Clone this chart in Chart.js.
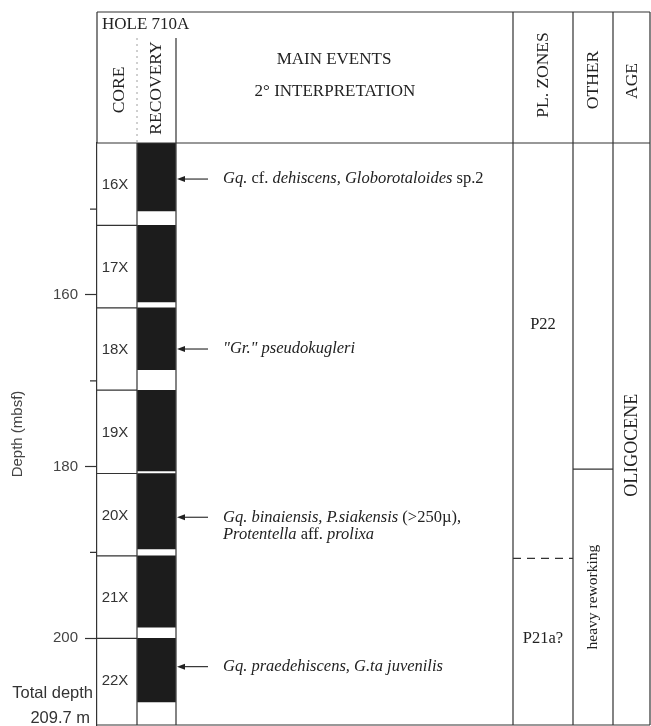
<!DOCTYPE html>
<html>
<head>
<meta charset="utf-8">
<script src="https://cdn.jsdelivr.net/npm/chart.js@4/dist/chart.umd.min.js"></script>
<style>
  html, body { margin: 0; padding: 0; background: #fff; }
  #wrap { width: 651px; height: 726px; }
</style>
</head>
<body>
<div id="wrap"><canvas id="chart"></canvas></div>
<script>
// Cores of Hole 710A (depth in mbsf)
const coreNames = ["16X", "17X", "18X", "19X", "20X", "21X", "22X"];
const coreTops = [142.3, 151.9, 161.5, 171.1, 180.8, 190.4, 200.0];
const coreBottoms = [151.9, 161.5, 171.1, 180.8, 190.4, 200.0, 209.7];
const recoveryBottoms = [150.2, 160.8, 168.7, 180.5, 189.6, 198.7, 207.4];
const depthTicks = [150, 160, 170, 180, 190, 200];
const totalDepth = 209.7;

// Main events (text between _ _ is italic, \n = new line)
const eventDepths = [146.5, 166.3, 185.9, 203.3];
const eventLabels = [
  "_Gq._ cf. _dehiscens, Globorotaloides_ sp.2",
  "_\"Gr.\" pseudokugleri_",
  "_Gq. binaiensis, P.siakensis_ (>250µ),\n_Protentella_ aff. _prolixa_",
  "_Gq. praedehiscens, G.ta juvenilis_"
];

// Planktonic zones, other, age
const zoneNames = ["P22", "P21a?"];
const zoneLabelDepths = [163.5, 200.0];
const zoneBoundary = 190.7;
const otherBoundary = 180.3;
const otherLabel = "heavy reworking";
const ageLabel = "OLIGOCENE";
const ageLabelDepth = 177.5;

// column layout (x units = px inside the frame)
const COL = { core: [0, 40], rec: [40, 79], events: [79, 416], zones: [416, 476], other: [476, 516], age: [516, 553] };
const serif = '"Liberation Serif", "Times New Roman", serif';
const sans = '"Liberation Sans", Arial, sans-serif';
const ink = "#333";

const mid = (c) => (c[0] + c[1]) / 2;

// line segments for core boundaries, broken with null points
const boundaryPoints = [];
coreTops.slice(1).forEach((d) => {
  boundaryPoints.push({ x: COL.core[0], y: d }, { x: COL.core[1], y: d }, { x: COL.core[1], y: null });
});

function drawRich(ctx, str, x, y, size) {
  const parts = str.split("_");
  let cx = x;
  parts.forEach((p, i) => {
    ctx.font = (i % 2 ? "italic " : "") + size + "px " + serif;
    ctx.fillText(p, cx, y);
    cx += ctx.measureText(p).width;
  });
}

function vtext(ctx, s, cx, cy, font) {
  ctx.save();
  ctx.translate(cx, cy);
  ctx.rotate(-Math.PI / 2);
  ctx.font = font;
  ctx.textAlign = "center";
  ctx.textBaseline = "middle";
  ctx.fillText(s, 0, 0);
  ctx.restore();
}

const columnPlugin = {
  id: "columns",
  afterDatasetsDraw(chart) {
    const { ctx, chartArea: a, scales: { x, y } } = chart;
    const top = a.top - 131;
    const px = (v) => x.getPixelForValue(v);
    ctx.save();
    ctx.strokeStyle = ink;
    ctx.lineWidth = 1.2;
    ctx.beginPath();
    ctx.moveTo(a.left, top); ctx.lineTo(a.right, top);
    ctx.moveTo(a.left, a.top); ctx.lineTo(a.right, a.top);
    ctx.moveTo(a.left, a.bottom); ctx.lineTo(a.right, a.bottom);
    ctx.moveTo(a.left, top); ctx.lineTo(a.left, a.top);
    [COL.zones[0], COL.other[0], COL.age[0], COL.age[1]].forEach((v) => {
      ctx.moveTo(px(v), top); ctx.lineTo(px(v), a.bottom);
    });
    ctx.moveTo(px(COL.rec[1]), top + 26); ctx.lineTo(px(COL.rec[1]), a.bottom);
    ctx.moveTo(px(COL.rec[0]), a.top); ctx.lineTo(px(COL.rec[0]), a.bottom);
    ctx.stroke();

    // faint dotted divider core / recovery in the header
    ctx.save();
    ctx.setLineDash([2, 4]);
    ctx.lineWidth = 0.8;
    ctx.strokeStyle = "#888";
    ctx.beginPath();
    ctx.moveTo(px(COL.rec[0]), top + 26); ctx.lineTo(px(COL.rec[0]), a.top);
    ctx.stroke();
    ctx.restore();

    // minor depth ticks
    ctx.beginPath();
    y.ticks.forEach((t) => {
      if (t.value % 20 !== 0) {
        const yy = y.getPixelForValue(t.value);
        ctx.moveTo(a.left - 7, yy); ctx.lineTo(a.left, yy);
      }
    });
    ctx.stroke();

    ctx.fillStyle = "#222";
    // header
    ctx.textBaseline = "middle";
    ctx.textAlign = "left";
    ctx.font = "17px " + serif;
    ctx.fillText("HOLE 710A", a.left + 5, top + 13);
    ctx.textAlign = "center";
    ctx.fillText("MAIN EVENTS", px(237), top + 48);
    ctx.fillText("2° INTERPRETATION", px(238), top + 80);
    const hf = "17.5px " + serif;
    vtext(ctx, "CORE", px(mid(COL.core)) + 2, top + 78, hf);
    vtext(ctx, "RECOVERY", px(mid(COL.rec)), top + 76, hf);
    vtext(ctx, "PL. ZONES", px(mid(COL.zones)), top + 63, hf);
    vtext(ctx, "OTHER", px(mid(COL.other)), top + 68, hf);
    vtext(ctx, "AGE", px(mid(COL.age)) + 1, top + 69, hf);

    // core names
    ctx.font = "15px " + sans;
    ctx.fillStyle = "#333";
    coreNames.forEach((n, i) => {
      ctx.fillText(n, px(18), y.getPixelForValue((coreTops[i] + coreBottoms[i]) / 2) + 1);
    });

    // total depth note
    ctx.textAlign = "right";
    const ty = y.getPixelForValue(totalDepth);
    ctx.font = "16.5px " + sans;
    ctx.fillText("Total depth", a.left - 4, ty - 28);
    ctx.fillText("209.7 m", a.left - 7, ty - 3);

    // event arrows + labels
    ctx.fillStyle = "#222";
    ctx.textAlign = "left";
    eventDepths.forEach((d, i) => {
      const yy = y.getPixelForValue(d);
      ctx.beginPath();
      ctx.moveTo(px(84), yy); ctx.lineTo(px(111), yy);
      ctx.stroke();
      ctx.beginPath();
      ctx.moveTo(px(80), yy); ctx.lineTo(px(88), yy - 3); ctx.lineTo(px(88), yy + 3);
      ctx.closePath();
      ctx.fill();
      eventLabels[i].split("\n").forEach((line, j) => {
        drawRich(ctx, line, px(126), yy + j * 17, 16.5);
      });
    });

    // zones, other, age
    ctx.textAlign = "center";
    ctx.font = "16.5px " + serif;
    zoneNames.forEach((z, i) => ctx.fillText(z, px(mid(COL.zones)), y.getPixelForValue(zoneLabelDepths[i])));
    vtext(ctx, otherLabel, px(mid(COL.other)), y.getPixelForValue((otherBoundary + y.max) / 2), "15.5px " + serif);
    vtext(ctx, ageLabel, px(mid(COL.age)) + 1, y.getPixelForValue(ageLabelDepth), "18px " + serif);
    ctx.restore();
  }
};

new Chart(document.getElementById("chart"), {
  type: "bar",
  data: {
    datasets: [
      {
        label: "Recovery",
        data: coreNames.map((n, i) => ({ x: mid(COL.rec), y: [coreTops[i], recoveryBottoms[i]] })),
        backgroundColor: "#1c1c1c",
        borderWidth: 0,
        barThickness: 38,
        grouped: false,
      },
      {
        type: "line",
        label: "Core boundaries",
        data: boundaryPoints,
        borderColor: ink,
        borderWidth: 1.2,
        pointRadius: 0,
        spanGaps: false,
      },
      {
        type: "line",
        label: "Zone boundary",
        data: [{ x: COL.zones[0], y: zoneBoundary }, { x: COL.zones[1], y: zoneBoundary }],
        borderColor: ink,
        borderWidth: 1.2,
        borderDash: [8, 6],
        pointRadius: 0,
      },
      {
        type: "line",
        label: "Other boundary",
        data: [{ x: COL.other[0], y: otherBoundary }, { x: COL.other[1], y: otherBoundary }],
        borderColor: ink,
        borderWidth: 1.2,
        pointRadius: 0,
      },
    ],
  },
  options: {
    responsive: true,
    maintainAspectRatio: false,
    animation: false,
    layout: { padding: { top: 143, bottom: 1, right: 1, left: 0 } },
    plugins: { legend: { display: false }, tooltip: { enabled: false } },
    scales: {
      x: { type: "linear", display: false, min: 0, max: 553, offset: false },
      y: {
        type: "linear",
        reverse: true,
        min: 142.3,
        max: 210.1,
        afterFit: (s) => { s.width = 97; s.paddingTop = 0; s.paddingBottom = 0; },
        afterBuildTicks: (s) => { s.ticks = depthTicks.map((v) => ({ value: v })); },
        grid: {
          drawOnChartArea: false,
          drawTicks: true,
          tickLength: 12,
          tickWidth: 1.2,
          tickColor: (c) => (c.tick && c.tick.value % 20 === 0 ? ink : "rgba(0,0,0,0)"),
        },
        border: { display: true, color: ink, width: 1.2 },
        ticks: {
          padding: 7,
          color: "#444",
          font: { family: sans, size: 15 },
          callback: (v) => (v % 20 === 0 ? v : ""),
        },
        title: {
          display: true,
          text: "Depth (mbsf)",
          color: "#444",
          font: { family: sans, size: 15 },
          padding: { top: 9, bottom: 0 },
        },
      },
    },
  },
  plugins: [columnPlugin],
});
</script>
</body>
</html>
